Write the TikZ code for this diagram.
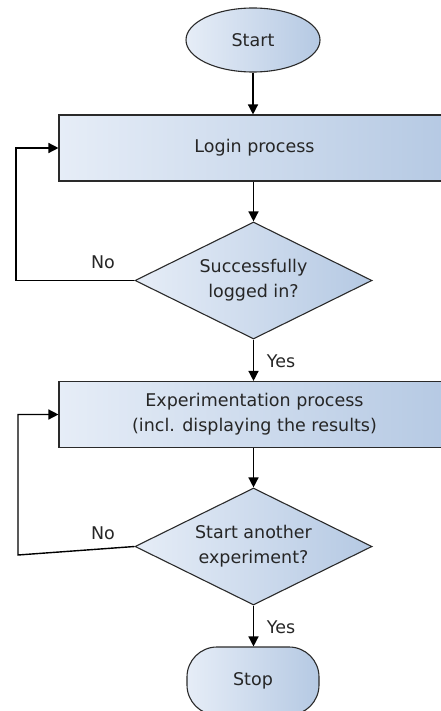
\documentclass[tikz,border=0pt]{standalone}
\usepackage{fontspec}
\setmainfont{DejaVu Sans}
\usetikzlibrary{shapes.geometric,arrows.meta}
\definecolor{fillL}{HTML}{E6EDF7}
\definecolor{fillR}{HTML}{B5C9E3}
\definecolor{edge}{HTML}{2A2A2A}
\begin{document}
\begin{tikzpicture}[x=1pt,y=-1pt,
  every node/.style={font=\fontsize{17.5}{25}\selectfont, text=black!85},
  shapebase/.style={draw=edge, line width=1.1pt, left color=fillL, right color=fillR, inner sep=0pt, align=center},
  termbox/.style={shapebase, ellipse, minimum width=134pt, minimum height=64pt},
  stopbox/.style={shapebase, rectangle, rounded corners=30pt, minimum width=132pt, minimum height=68pt},
  procbox/.style={shapebase, rectangle, minimum width=391pt, minimum height=66pt},
  decbox/.style={shapebase, diamond, aspect=2, minimum width=237pt, minimum height=117pt},
  arr/.style={draw=black, line width=1.4pt, -{Triangle[length=10pt,width=10pt]}},
  lbl/.style={inner sep=0pt}
]
\useasboundingbox (0,0) rectangle (441,711);
\node[termbox] (start) at (253,40) {Start};
\node[procbox] (login) at (254.5,148) {Login process};
\node[decbox] (d1) at (253.5,280.5) {Successfully\\logged in?};
\node[procbox] (exp) at (254.5,414.5) {Experimentation process\\(incl. displaying the results)};
\node[decbox] (d2) at (253.5,546.5) {Start another\\experiment?};
\node[stopbox] (stop) at (253,681) {Stop};

\coordinate (c1) at (16,280.5);
\coordinate (c2) at (18,555);

\draw[arr] (start.south) -- (start.south |- login.north);
\draw[arr] (d1.north |- login.south) -- (d1.north);
\draw[arr] (d1.west) -- (c1) |- (login.west);
\draw[arr] (d1.south) -- (d1.south |- exp.north);
\draw[arr] (d2.north |- exp.south) -- (d2.north);
\draw[arr] (d2.west) -- (c2) |- (exp.west);
\draw[arr] (d2.south) -- (d2.south |- stop.north);

\node[lbl] (no1) at (103,262) {No};
\node[lbl] (yes1) at (281,361) {Yes};
\node[lbl] (no2) at (103,533) {No};
\node[lbl] (yes2) at (281,627) {Yes};
\end{tikzpicture}
\end{document}
